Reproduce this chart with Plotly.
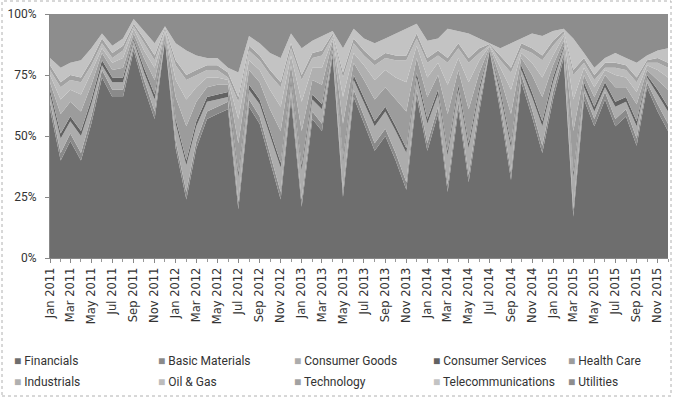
import pandas as pd
import plotly.graph_objects as go

# Monthly sector shares of the index, Jan 2011 - Dec 2015 (percent)
months = pd.date_range("2011-01-01", "2015-12-01", freq="MS")

financials = [61, 40, 48, 40, 55, 74, 66, 66, 85, 70, 57, 89, 45, 24, 45, 57, 59, 61, 20, 62,
              55, 40, 24, 65, 21, 57, 52, 83, 25, 66, 55, 44, 50, 40, 28, 66, 44, 59, 27, 61,
              31, 60, 85, 60, 32, 72, 58, 43, 65, 82, 17, 65, 54, 65, 54, 58, 46, 70, 60, 52]
basic_materials = [3, 3, 3, 3, 3, 3, 3, 3, 2, 3, 3, 1, 3, 3, 3, 3, 3, 3, 3, 3,
                   3, 3, 3, 3, 3, 3, 3, 2, 3, 3, 3, 3, 3, 3, 3, 3, 3, 3, 3, 3,
                   3, 3, 0.6, 3, 3, 3, 3, 3, 3, 2, 3, 3, 3, 3, 3, 3, 3, 2, 3, 3]
consumer_goods = [3, 6, 5, 7, 5, 2, 3, 3, 2, 3, 5, 0.6, 7, 11, 6, 4, 3, 2, 10, 4,
                  5, 7, 10, 4, 12, 5, 6, 1, 11, 4, 6, 7, 7, 9, 12, 5, 8, 5, 12, 5,
                  11, 5, 0.3, 4, 10, 2, 5, 8, 4, 2, 13, 2, 3, 2, 5, 3, 5, 2, 4, 5]
consumer_services = [2, 2, 2, 2, 2, 2, 2, 2, 1, 2, 2, 1, 2, 2, 2, 2, 2, 2, 2, 2,
                     2, 2, 2, 2, 2, 2, 2, 1, 2, 2, 2, 2, 2, 2, 2, 2, 2, 2, 2, 2,
                     2, 2, 0.4, 2, 2, 2, 2, 2, 2, 1, 2, 2, 2, 2, 2, 2, 2, 1, 2, 2]
health_care = [3, 8, 6, 8, 6, 3, 3, 4, 2, 4, 6, 0.8, 9, 14, 8, 4, 4, 3, 12, 6,
               7, 9, 13, 5, 14, 6, 8, 2, 14, 5, 7, 9, 8, 11, 15, 6, 9, 6, 15, 6,
               14, 6, 0.4, 5, 12, 3, 7, 10, 5, 2, 17, 3, 4, 3, 6, 4, 7, 2, 4, 7]
industrials = [3, 6, 5, 7, 5, 2, 3, 4, 2, 3, 5, 0.6, 7, 11, 6, 4, 3, 2, 10, 4,
               5, 8, 10, 4, 12, 5, 7, 1, 11, 4, 6, 8, 7, 9, 12, 5, 8, 5, 12, 5,
               11, 5, 0.3, 4, 10, 2, 5, 8, 4, 2, 13, 3, 4, 2, 5, 4, 5, 2, 4, 5]
oil_gas = [2, 5, 4, 5, 3, 2, 2, 3, 1, 3, 3, 0.4, 6, 8, 5, 3, 3, 1, 7, 4,
           4, 6, 8, 3, 9, 4, 5, 1, 8, 4, 4, 6, 5, 7, 9, 3, 6, 3, 9, 4,
           8, 3, 0.3, 3, 7, 2, 4, 7, 4, 1, 10, 2, 3, 1, 3, 3, 4, 1, 3, 4]
technology = [2, 2, 2, 2, 2, 2, 2, 2, 1, 2, 2, 1, 2, 2, 2, 2, 2, 2, 2, 2,
              2, 2, 2, 2, 2, 2, 2, 1, 2, 2, 2, 2, 2, 2, 2, 2, 2, 2, 2, 2,
              2, 2, 0.4, 2, 2, 2, 2, 2, 2, 1, 2, 2, 2, 2, 2, 2, 2, 1, 2, 2]
telecommunications = [3, 6, 5, 7, 5, 2, 3, 3, 2, 3, 5, 0.6, 7, 10, 6, 3, 3, 2, 10, 4,
                      5, 7, 10, 4, 11, 5, 6, 1, 10, 4, 5, 7, 6, 9, 11, 4, 7, 5, 12, 5,
                      10, 4, 0.3, 3, 10, 2, 6, 8, 4, 1, 13, 2, 3, 2, 4, 3, 6, 2, 3, 6]
utilities = [18, 22, 20, 19, 14, 8, 13, 10, 2, 7, 12, 5, 12, 15, 17, 18, 18, 22, 24, 9,
             12, 16, 18, 8, 14, 11, 9, 7, 14, 6, 10, 12, 10, 8, 6, 4, 11, 10, 6, 7,
             8, 10, 12, 14, 12, 10, 8, 9, 7, 6, 10, 16, 22, 18, 16, 18, 20, 17, 15, 14]

series = [
    ("Financials", financials, "#6e6e6e"),
    ("Basic Materials", basic_materials, "#8a8a8a"),
    ("Consumer Goods", consumer_goods, "#acacac"),
    ("Consumer Services", consumer_services, "#626262"),
    ("Health Care", health_care, "#9c9c9c"),
    ("Industrials", industrials, "#b0b0b0"),
    ("Oil & Gas", oil_gas, "#bcbcbc"),
    ("Technology", technology, "#a2a2a2"),
    ("Telecommunications", telecommunications, "#c3c3c3"),
    ("Utilities", utilities, "#8d8d8d"),
]

fig = go.Figure()
for name, vals, col in series:
    fig.add_trace(go.Scatter(
        x=months, y=vals, name=name, mode="lines",
        stackgroup="sectors", groupnorm="percent",
        line=dict(width=0, color=col), fillcolor=col,
        showlegend=False,
    ))

# Legend built as text rows (5 per row) with small square swatches
text_font = "Roboto, sans-serif"
col_x = [12, 156, 292, 431, 566]
row_y = [361, 382]
for k, (name, _, col) in enumerate(series):
    r, c = divmod(k, 5)
    fig.add_annotation(
        xref="paper", yref="paper",
        x=(col_x[c] - 50) / 618, y=(258 - row_y[r]) / 244,
        xanchor="left", yanchor="middle", showarrow=False,
        text=f"<span style='color:{col}'>■</span> {name}",
        font=dict(family=text_font, size=12, color="#333333"),
    )

fig.update_layout(
    width=673, height=398,
    margin=dict(l=50, r=5, t=14, b=140),
    paper_bgcolor="white", plot_bgcolor="white",
    showlegend=False,
    xaxis=dict(
        range=[months[0], months[-1]],
        tickformat="%b %Y", dtick="M2", tick0="2011-01-01",
        tickangle=-90, ticks="outside", ticklen=4, tickcolor="#888888",
        minor=dict(dtick="M1", ticks="outside", ticklen=3, tickcolor="#999999"),
        showline=True, linecolor="#888888", showgrid=False,
        tickfont=dict(family="DejaVu Sans", size=11.5, color="#333333"),
    ),
    yaxis=dict(
        range=[0, 100], tickvals=[0, 25, 50, 75, 100],
        ticktext=["0%", "25%", "50%", "75%", "100%"],
        ticks="outside", ticklen=4, tickcolor="#888888",
        ticklabelstandoff=6,
        showline=True, linecolor="#888888", showgrid=False,
        tickfont=dict(family=text_font, size=12, color="#333333"),
    ),
    shapes=[dict(
        type="rect", xref="paper", yref="paper",
        x0=-48 / 618, x1=1 + 3 / 618, y0=-138 / 244, y1=1 + 13 / 244,
        line=dict(color="#b0b0b0", width=1, dash="dot"),
    )],
)

fig.write_html("out.html")
